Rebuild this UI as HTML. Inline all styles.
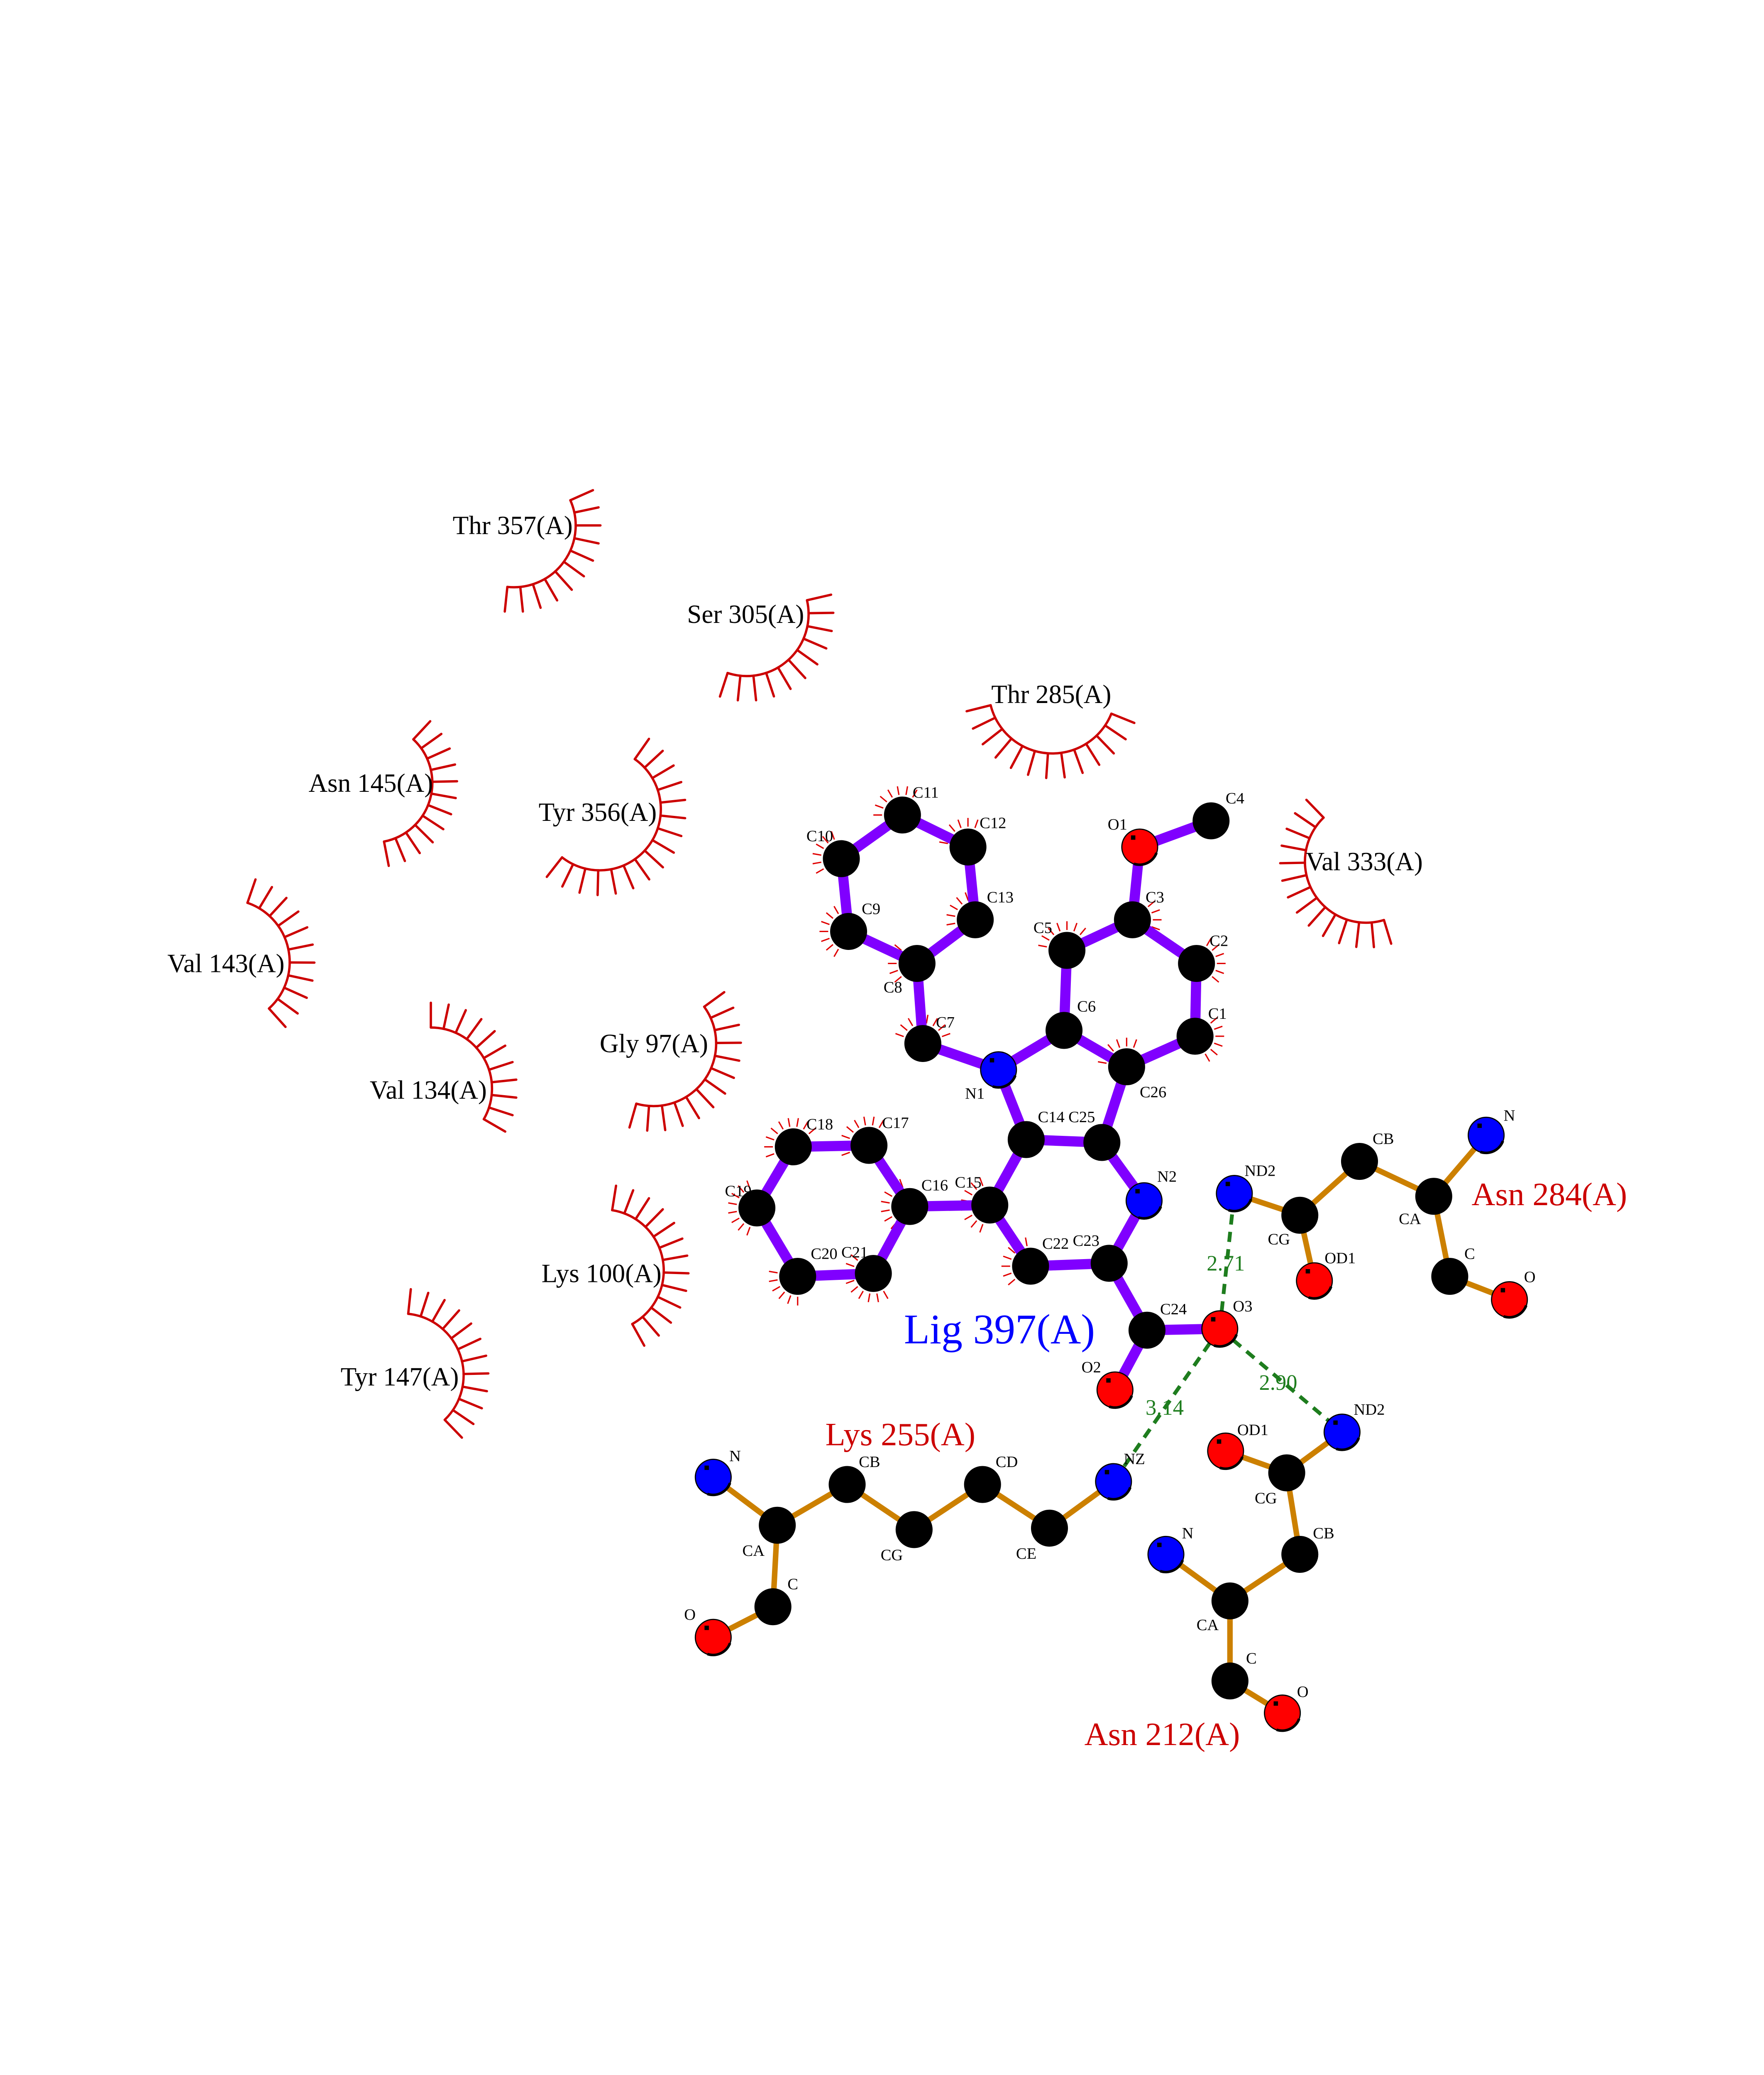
<!DOCTYPE html>
<html><head><meta charset="utf-8"><style>
html,body{margin:0;padding:0;background:#fff;width:4250px;height:5500px;overflow:hidden}
svg{display:block}
text{font-family:"Liberation Serif",serif}
</style></head><body>
<svg xmlns="http://www.w3.org/2000/svg" width="4250" height="5500" viewBox="0 0 1224 1584">
<rect width="1224" height="1584" fill="#fff"/>
<g transform="scale(1.01)">
<g id="arcs" stroke="#cc0000" stroke-width="1.6" fill="none" stroke-linecap="round"></g>
<g id="spk" stroke="#e00000" stroke-width="0.9"></g>
<g id="bonds" stroke-linecap="butt"></g>
<g id="hb" stroke="#1e7d1e" stroke-width="2.6" stroke-dasharray="7,5"></g>
<g id="atoms"></g>
<g font-size="11" fill="#000">
<text x="627" y="548">C11</text><text x="673" y="569">C12</text><text x="678" y="620">C13</text>
<text x="554" y="578">C10</text><text x="592" y="628">C9</text><text x="607" y="682">C8</text>
<text x="643" y="706">C7</text><text x="663" y="755">N1</text><text x="740" y="695">C6</text>
<text x="710" y="641">C5</text><text x="787" y="620">C3</text><text x="831" y="650">C2</text>
<text x="830" y="700">C1</text><text x="783" y="754">C26</text><text x="713" y="771">C14</text>
<text x="734" y="771">C25</text><text x="795" y="812">N2</text><text x="656" y="816">C15</text>
<text x="716" y="858">C22</text><text x="737" y="856">C23</text><text x="633" y="818">C16</text>
<text x="606" y="775">C17</text><text x="554" y="776">C18</text><text x="498" y="822">C19</text>
<text x="557" y="865">C20</text><text x="578" y="864">C21</text><text x="761" y="570">O1</text>
<text x="842" y="552">C4</text><text x="797" y="903">C24</text><text x="847" y="901">O3</text>
<text x="743" y="943">O2</text>
<text x="855" y="808">ND2</text><text x="871" y="855">CG</text><text x="910" y="868">OD1</text>
<text x="943" y="786">CB</text><text x="961" y="841">CA</text><text x="1033" y="770">N</text>
<text x="1006" y="865">C</text><text x="1047" y="881">O</text>
<text x="930" y="972">ND2</text><text x="862" y="1033">CG</text><text x="850" y="986">OD1</text>
<text x="902" y="1057">CB</text><text x="822" y="1120">CA</text><text x="812" y="1057">N</text>
<text x="856" y="1143">C</text><text x="891" y="1166">O</text>
<text x="772" y="1006">NZ</text><text x="698" y="1071">CE</text><text x="684" y="1008">CD</text>
<text x="605" y="1072">CG</text><text x="590" y="1008">CB</text><text x="510" y="1069">CA</text>
<text x="501" y="1004">N</text><text x="541" y="1092">C</text><text x="470" y="1113">O</text>
</g>
<g font-size="15" fill="#1e7d1e">
<text x="829" y="873">2.71</text><text x="865" y="955">2.90</text><text x="787" y="972">3.14</text>
</g>
<text x="621" y="923" font-size="29" fill="#0000ff">Lig 397(A)</text>
<g font-size="22.5" fill="#cc0000">
<text x="1011" y="828">Asn 284(A)</text><text x="567" y="993">Lys 255(A)</text><text x="745" y="1199">Asn 212(A)</text>
</g>
<g font-size="18" fill="#000">
<text x="311" y="367">Thr 357(A)</text><text x="472" y="428">Ser 305(A)</text><text x="681" y="483">Thr 285(A)</text>
<text x="212" y="544">Asn 145(A)</text><text x="370" y="564">Tyr 356(A)</text><text x="897" y="598">Val 333(A)</text>
<text x="115" y="668">Val 143(A)</text><text x="412" y="723">Gly 97(A)</text><text x="254" y="755">Val 134(A)</text>
<text x="372" y="881">Lys 100(A)</text><text x="234" y="952">Tyr 147(A)</text>
</g>
<text x="58" y="1453" font-size="14">.</text>
</g>
<script>
(function(){
var NS="http://www.w3.org/2000/svg";
function el(p,t,a){var e=document.createElementNS(NS,t);for(var k in a)e.setAttribute(k,a[k]);document.getElementById(p).appendChild(e);return e;}
var A={C11:[620,560],C12:[665,582],C13:[670,632],C8:[630,662],C9:[583,640],C10:[578,590],C7:[634,717],N1:[686,735],C6:[731,708],C5:[733,653],C3:[778,632],C2:[822,662],C1:[821,712],C26:[774,733],C25:[757,785],C14:[705,783],C15:[680,828],C22:[708,870],C23:[762,868],N2:[786,825],C16:[625,829],C17:[597,787],C18:[545,788],C19:[520,830],C20:[548,877],C21:[600,875],O1:[783,582],C4:[832,564],C24:[788,914],O3:[838,913],O2:[766,955]};
var LB=[["C10","C11"],["C11","C12"],["C12","C13"],["C13","C8"],["C8","C9"],["C9","C10"],["C8","C7"],["C7","N1"],["N1","C6"],["C6","C26"],["C6","C5"],["C5","C3"],["C3","C2"],["C2","C1"],["C1","C26"],["C26","C25"],["C25","C14"],["C14","N1"],["C14","C15"],["C15","C22"],["C22","C23"],["C23","N2"],["N2","C25"],["C15","C16"],["C16","C17"],["C17","C18"],["C18","C19"],["C19","C20"],["C20","C21"],["C21","C16"],["C3","O1"],["O1","C4"],["C23","C24"],["C24","O3"],["C24","O2"]];
LB.forEach(function(b){var p=A[b[0]],q=A[b[1]];el("bonds","line",{x1:p[0],y1:p[1],x2:q[0],y2:q[1],stroke:"#8000ff","stroke-width":7});});
var R={
a1:{ND2:[848,820,"N"],CG:[893,835,"C"],OD1:[903,880,"O"],CB:[934,798,"C"],CA:[985,822,"C"],N:[1021,780,"N"],C:[996,877,"C"],O:[1037,893,"O"]},
a2:{ND2:[922,984,"N"],CG:[884,1012,"C"],OD1:[842,997,"O"],CB:[893,1068,"C"],CA:[845,1100,"C"],N:[801,1068,"N"],C:[845,1155,"C"],O:[881,1177,"O"]},
k:{NZ:[765,1018,"N"],CE:[721,1050,"C"],CD:[675,1020,"C"],CG:[628,1051,"C"],CB:[582,1020,"C"],CA:[534,1048,"C"],N:[490,1015,"N"],C:[531,1104,"C"],O:[490,1125,"O"]}};
var RB={a1:[["ND2","CG"],["CG","OD1"],["CG","CB"],["CB","CA"],["CA","N"],["CA","C"],["C","O"]],a2:[["ND2","CG"],["CG","OD1"],["CG","CB"],["CB","CA"],["CA","N"],["CA","C"],["C","O"]],k:[["NZ","CE"],["CE","CD"],["CD","CG"],["CG","CB"],["CB","CA"],["CA","N"],["CA","C"],["C","O"]]};
for(var r in RB){RB[r].forEach(function(b){var p=R[r][b[0]],q=R[r][b[1]];el("bonds","line",{x1:p[0],y1:p[1],x2:q[0],y2:q[1],stroke:"#cc8000","stroke-width":3.8});});}
var O3=A.O3;[[848,820],[922,984],[765,1018]].forEach(function(p){el("hb","line",{x1:O3[0],y1:O3[1],x2:p[0],y2:p[1]});});
var col={C:"#000",N:"#0000ff",O:"#ff0000"};
function atom(x,y,t){el("atoms","circle",{cx:x,cy:y,r:12.3,fill:col[t],stroke:"#000","stroke-width":0.8});if(t!="C"){el("atoms","rect",{x:x-6,y:y-8,width:3,height:3,fill:"#000"});el("atoms","path",{d:"M"+(x-4)+","+(y+11.5)+" A12.3,12.3 0 0,0 "+(x+11.5)+","+(y+4),stroke:"#000","stroke-width":1.8,fill:"none"});}}
for(var k in A){atom(A[k][0],A[k][1],k[0]);}
for(var r in R){for(var k in R[r]){var a=R[r][k];atom(a[0],a[1],a[2]);}}
var H=[[353,361,42.5,-24,96],[513,422,42.5,-13,108],[723,474,43.7,22,166],[256,538,41,-47,79],[412,556,42,-55,128],[938.5,592,42,73,226],[156,661,43,-71,48],[449,717,43,-36,106],[296,748,42,-90,30],[414,873,42,-81,61],[276,945,42.5,-84,46]];
H.forEach(function(h){var cx=h[0],cy=h[1],r=h[2],a0=h[3]*Math.PI/180,a1=h[4]*Math.PI/180;
var d="M"+(cx+r*Math.cos(a0))+","+(cy+r*Math.sin(a0))+" A"+r+","+r+" 0 "+((h[4]-h[3])>180?1:0)+",1 "+(cx+r*Math.cos(a1))+","+(cy+r*Math.sin(a1));
el("arcs","path",{d:d});var n=Math.round((h[4]-h[3])/12);
for(var i=0;i<=n;i++){var a=a0+(a1-a0)*i/n;el("arcs","line",{x1:cx+r*Math.cos(a),y1:cy+r*Math.sin(a),x2:cx+(r+17)*Math.cos(a),y2:cy+(r+17)*Math.sin(a)});}});
var S=[["C11",180,300],["C12",190,300],["C13",150,260],["C10",150,260],["C9",120,250],["C5",190,330],["C2",-60,40],["C1",-40,60],["C26",190,300],["C15",110,250],["C22",140,260],["C16",130,250],["C17",160,300],["C18",160,320],["C19",110,260],["C20",90,200],["C21",60,220],["C7",200,340],["C3",-40,30],["C8",140,230]];
S.forEach(function(s){var p=A[s[0]];for(var a=s[1];a<=s[2];a+=20){var t=a*Math.PI/180;el("spk","line",{x1:p[0]+14*Math.cos(t),y1:p[1]+14*Math.sin(t),x2:p[0]+20*Math.cos(t),y2:p[1]+20*Math.sin(t)});}});
})();
</script>
</svg>
</body></html>
